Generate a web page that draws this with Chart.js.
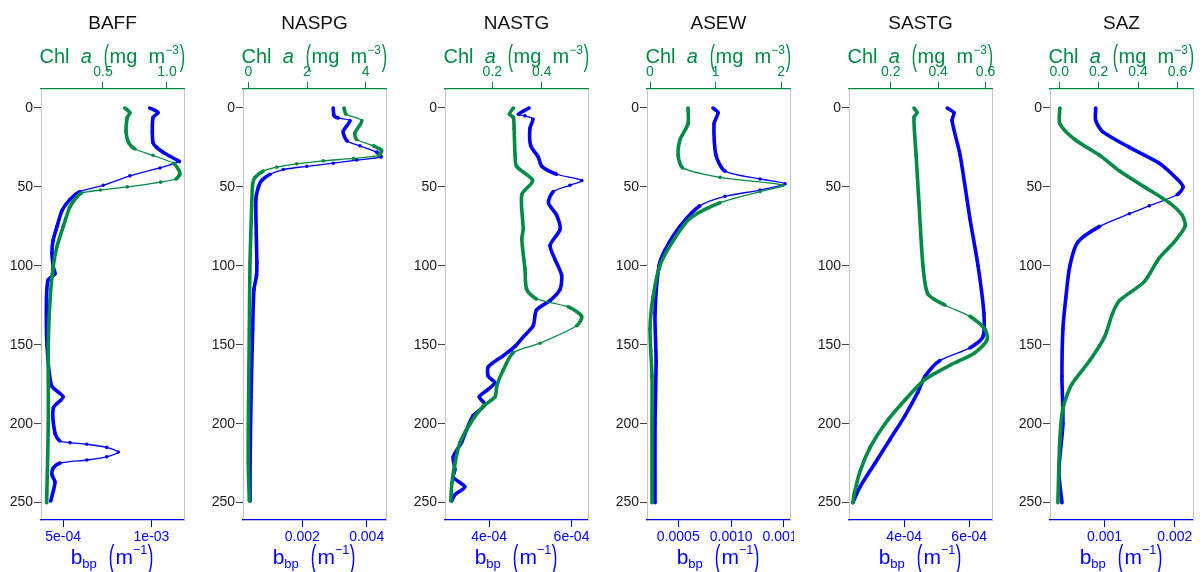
<!DOCTYPE html>
<html>
<head>
<meta charset="utf-8">
<script src="https://cdn.jsdelivr.net/npm/chart.js@4.4.1/dist/chart.umd.min.js"></script>
<style>
  html, body { margin: 0; padding: 0; background: #fff; }
  #wrap { position: relative; width: 1203px; height: 572px; overflow: hidden; font-family: "Liberation Sans", Arial, sans-serif; }
  .cv { position: absolute; top: 0; }
  .lbl { position: absolute; text-align: center; white-space: nowrap; transform: translate(-50%, -50%); line-height: 1; }
  .title { font-size: 19px; color: #111; }
  .chl { font-size: 20px; color: #008b45; }
  .bbp { font-size: 21px; color: #0000ff; }
  .par { display: inline-block; transform: scale(0.8, 1.45); position: relative; top: -0.02em; }
  sup { font-size: 0.6em; vertical-align: 0.75em; }
  sub { font-size: 0.62em; vertical-align: -0.3em; }
</style>
</head>
<body>
<div id="wrap"></div>
<script>
// ---- panel names and depth ticks ----
const panelNames = ['BAFF', 'NASPG', 'NASTG', 'ASEW', 'SASTG', 'SAZ'];
const depthTicks = [0, 50, 100, 150, 200, 250];

// ---- BAFF ----
const baffChlDepth = [0, 3, 6, 15, 22, 26, 30, 35, 39, 42, 45, 47, 50, 52, 54, 58, 63, 75, 88, 101, 122, 150, 200, 250];
const baffChl = [0.67, 0.71, 0.69, 0.68, 0.70, 0.75, 0.89, 1.05, 1.09, 1.10, 1.07, 0.95, 0.69, 0.48, 0.33, 0.28, 0.24, 0.19, 0.14, 0.11, 0.086, 0.073, 0.073, 0.06];
const baffBbpDepth = [0, 3, 6, 15, 22, 25, 28, 33, 34, 38, 43, 49, 53, 58, 65, 75, 84, 92, 101, 105, 109, 122, 150, 176, 183, 190, 206, 211, 212, 213, 215, 218, 221, 223, 225, 228, 232, 237, 249];
const baffBbp = [9.9e-4, 1.037e-3, 1.009e-3, 1.005e-3, 1.009e-3, 1.029e-3, 1.065e-3, 1.143e-3, 1.156e-3, 1.048e-3, 8.78e-4, 7.27e-4, 5.96e-4, 5.39e-4, 4.94e-4, 4.66e-4, 4.43e-4, 4.37e-4, 4.45e-4, 4.54e-4, 4.15e-4, 4.06e-4, 4.09e-4, 4.35e-4, 5.0e-4, 4.45e-4, 4.54e-4, 4.82e-4, 5.39e-4, 6.34e-4, 7.47e-4, 8.12e-4, 7.47e-4, 6.34e-4, 4.82e-4, 4.45e-4, 4.36e-4, 4.54e-4, 4.3e-4];

// ---- NASPG ----
const naspgChlDepth = [0, 4, 8, 16, 20, 24, 27, 30, 32, 33.5, 35.4, 37.5, 40, 44, 48, 62, 98, 140, 204, 225, 249];
const naspgChl = [3.26, 3.33, 3.86, 3.63, 3.69, 4.26, 4.54, 4.43, 3.58, 2.55, 1.65, 0.97, 0.51, 0.23, 0.15, 0.116, 0.058, 0.035, 0.0, 0.0, 0.035];
const naspgBbpDepth = [0, 5, 6.4, 8, 15, 21, 24, 28, 31, 33, 35, 37, 39, 42, 46, 50, 58, 98, 106, 115, 140, 183, 225, 249];
const naspgBbp = [0.00296, 0.00299, 0.00312, 0.00348, 0.00327, 0.0034, 0.00379, 0.00431, 0.00444, 0.00369, 0.00296, 0.00214, 0.00141, 0.001, 0.00074, 0.00064, 0.00056, 0.00059, 0.00058, 0.0005, 0.00046, 0.00041, 0.00038, 0.00038];

// ---- NASTG ----
const nastgChlDepth = [0, 4, 6, 13, 30, 37, 46, 55, 77, 83, 102, 115, 121, 126, 132, 138, 149, 155, 166, 176, 183, 189, 200, 212, 225, 238, 249];
const nastgChl = [0.285, 0.269, 0.285, 0.288, 0.292, 0.298, 0.363, 0.319, 0.325, 0.319, 0.332, 0.339, 0.379, 0.507, 0.561, 0.541, 0.393, 0.285, 0.244, 0.218, 0.211, 0.163, 0.11, 0.069, 0.049, 0.036, 0.032];
const nastgBbpDepth = [0, 4, 5, 7, 13, 24, 31, 37, 42, 46, 49, 53, 60, 68, 77, 87, 96, 106, 115, 122, 128, 138, 145, 151, 157, 164, 170, 174, 179, 183, 188, 195, 204, 212, 221, 229, 234, 240, 245, 249];
const nastgBbp = [4.97e-4, 4.71e-4, 4.87e-4, 5.06e-4, 4.99e-4, 5.01e-4, 5.19e-4, 5.28e-4, 5.64e-4, 6.25e-4, 5.96e-4, 5.56e-4, 5.44e-4, 5.64e-4, 5.72e-4, 5.48e-4, 5.6e-4, 5.76e-4, 5.72e-4, 5.48e-4, 5.15e-4, 5.07e-4, 4.83e-4, 4.63e-4, 4.34e-4, 3.98e-4, 3.98e-4, 4.14e-4, 3.94e-4, 3.76e-4, 3.9e-4, 3.61e-4, 3.45e-4, 3.33e-4, 3.13e-4, 3.17e-4, 3.13e-4, 3.41e-4, 3.17e-4, 3.09e-4];

// ---- ASEW ----
const asewChlDepth = [0, 10, 20, 30, 38, 44, 49, 53, 60, 70, 85, 100, 120, 140, 170, 200, 250];
const asewChl = [0.58, 0.58, 0.46, 0.43, 0.5, 1.07, 2.03, 1.68, 1.07, 0.61, 0.34, 0.15, 0.046, 0.0, 0.03, 0.03, 0.03];
const asewBbpDepth = [0, 3, 10, 30, 40, 45, 48, 52, 56, 62, 75, 90, 100, 130, 160, 200, 250];
const asewBbp = [8.28e-4, 8.76e-4, 8.38e-4, 8.57e-4, 9.42e-4, 1.273e-3, 1.51e-3, 1.273e-3, 9.42e-4, 7.05e-4, 5.16e-4, 3.74e-4, 3.18e-4, 2.8e-4, 2.9e-4, 2.8e-4, 2.8e-4];

// ---- SASTG ----
const sastgChlDepth = [0, 3, 6, 30, 60, 100, 118, 125, 132, 140, 147, 155, 163, 172, 185, 200, 215, 230, 245, 250];
const sastgChl = [0.298, 0.311, 0.298, 0.307, 0.319, 0.336, 0.357, 0.429, 0.534, 0.597, 0.606, 0.555, 0.45, 0.344, 0.26, 0.176, 0.113, 0.071, 0.045, 0.041];
const sastgBbpDepth = [0, 3, 8, 30, 70, 100, 130, 145, 152, 160, 170, 180, 195, 210, 225, 240, 250];
const sastgBbp = [5.32e-4, 5.53e-4, 5.47e-4, 5.72e-4, 6.02e-4, 6.27e-4, 6.45e-4, 6.42e-4, 6.02e-4, 5.1e-4, 4.64e-4, 4.42e-4, 4.02e-4, 3.56e-4, 3.1e-4, 2.64e-4, 2.42e-4];

// ---- SAZ ----
const sazChlDepth = [0, 10, 20, 30, 40, 50, 60, 68, 75, 85, 95, 110, 122, 130, 145, 160, 175, 190, 210, 250];
const sazChl = [0.003, 0.003, 0.079, 0.205, 0.306, 0.432, 0.558, 0.624, 0.639, 0.583, 0.508, 0.432, 0.306, 0.271, 0.23, 0.155, 0.064, 0.019, 0.003, -0.007];
const sazBbpDepth = [0, 8, 15, 25, 35, 45, 50, 55, 62, 67, 75, 85, 100, 120, 140, 170, 200, 230, 250];
const sazBbp = [8.73e-4, 8.73e-4, 9.72e-4, 1.354e-3, 1.779e-3, 2.033e-3, 2.118e-3, 2.033e-3, 1.637e-3, 1.354e-3, 9.3e-4, 6.18e-4, 5.05e-4, 4.48e-4, 4.06e-4, 3.92e-4, 4.06e-4, 3.49e-4, 3.92e-4];

// ---- axis ticks ----
const chlTicks = [[0.5, 1.0], [0, 2, 4], [0.2, 0.4], [0, 1, 2], [0.2, 0.4, 0.6], [0.0, 0.2, 0.4, 0.6]];
const chlTickLabels = [['0.5', '1.0'], ['0', '2', '4'], ['0.2', '0.4'], ['0', '1', '2'], ['0.2', '0.4', '0.6'], ['0.0', '0.2', '0.4', '0.6']];
const bbpTicks = [[5e-4, 1e-3], [0.002, 0.004], [4e-4, 6e-4], [0.0005, 0.001, 0.0015], [4e-4, 6e-4], [0.001, 0.002]];
const bbpTickLabels = [['5e-04', '1e-03'], ['0.002', '0.004'], ['4e-04', '6e-04'], ['0.0005', '0.0010', '0.0015'], ['4e-04', '6e-04'], ['0.001', '0.002']];

// axis ranges
const chlRange = [[0.016, 1.133], [-0.18, 4.69], [0.0085, 0.587], [-0.046, 2.137], [0.024, 0.627], [-0.047, 0.679]];
const bbpRange = [[3.75e-4, 1.184e-3], [0.00016, 0.0046], [2.93e-4, 6.4e-4], [0.000204, 0.001557], [2.3e-4, 6.7e-4], [0.000222, 0.00226]];
const depthRange = [-12, 261];

const GREEN = '#008b45';
const BLUE = '#0000ff';

const series = [
    [baffChlDepth, baffChl, baffBbpDepth, baffBbp],
    [naspgChlDepth, naspgChl, naspgBbpDepth, naspgBbp],
    [nastgChlDepth, nastgChl, nastgBbpDepth, nastgBbp],
    [asewChlDepth, asewChl, asewBbpDepth, asewBbp],
    [sastgChlDepth, sastgChl, sastgBbpDepth, sastgBbp],
    [sazChlDepth, sazChl, sazBbpDepth, sazBbp]
];

// layout (pixels)
const plotLefts = [41, 243, 445, 647, 849, 1050];
const plotWidth = 143;
const yAxisW = 41;
const rightPad = 4;
const topH = 89;
const bottomH = 52;

const wrap = document.getElementById('wrap');

function addLabel(html, cls, x, y) {
    const d = document.createElement('div');
    d.className = 'lbl ' + cls;
    d.style.left = x + 'px';
    d.style.top = y + 'px';
    d.innerHTML = html;
    wrap.appendChild(d);
}

// thin line where the profile changes fast, thick where samples pile up
function segWidth(ctx) {
    const dx = Math.abs(ctx.p1.x - ctx.p0.x);
    const dy = Math.abs(ctx.p1.y - ctx.p0.y);
    return dx > 2 * dy ? 1.3 : 3.6;
}

const frame = {
    id: 'frame',
    afterDraw(chart) {
        const a = chart.chartArea;
        const c = chart.ctx;
        c.save();
        c.strokeStyle = '#c4c4c4';
        c.lineWidth = 1;
        c.beginPath();
        c.moveTo(Math.round(a.right) + 0.5, a.top);
        c.lineTo(Math.round(a.right) + 0.5, a.bottom);
        c.stroke();
        c.restore();
    }
};

function fixTicks(values) {
    return function (scale) {
        scale.ticks = values.map(v => ({ value: v }));
    };
}

panelNames.forEach((name, i) => {
    const left = plotLefts[i] - yAxisW;
    const w = yAxisW + plotWidth + rightPad;
    const canvas = document.createElement('canvas');
    canvas.className = 'cv';
    canvas.width = w;
    canvas.height = 572;
    canvas.style.left = left + 'px';
    canvas.style.width = w + 'px';
    canvas.style.height = '572px';
    wrap.appendChild(canvas);

    const [cd, cv, bd, bv] = series[i];
    const tickFont = { family: '"Liberation Sans", Arial, sans-serif', size: 14 };
    const line = (color) => ({
        showLine: true,
        borderColor: color,
        backgroundColor: color,
        pointRadius: 1.8,
        pointBorderWidth: 0,
        borderWidth: 3.6,
        tension: 0.25,
        segment: { borderWidth: segWidth }
    });

    new Chart(canvas.getContext('2d'), {
        type: 'scatter',
        data: {
            datasets: [Object.assign({
                label: 'Chl a',
                data: cd.map((d, k) => ({ x: cv[k], y: d })),
                xAxisID: 'xc',
                yAxisID: 'y'
            }, line(GREEN)), Object.assign({
                label: 'bbp',
                data: bd.map((d, k) => ({ x: bv[k], y: d })),
                xAxisID: 'xb',
                yAxisID: 'y'
            }, line(BLUE))]
        },
        options: {
            responsive: false,
            animation: false,
            devicePixelRatio: 1,
            layout: { padding: { left: 0, right: rightPad, top: 0, bottom: 0 } },
            plugins: { legend: { display: false }, tooltip: { enabled: false } },
            scales: {
                y: {
                    type: 'linear',
                    position: 'left',
                    reverse: true,
                    min: depthRange[0],
                    max: depthRange[1],
                    afterBuildTicks: fixTicks(depthTicks),
                    afterFit(s) { s.width = yAxisW; s.paddingTop = 0; s.paddingBottom = 0; },
                    border: { display: true, color: '#c4c4c4', width: 1 },
                    grid: { drawOnChartArea: false, drawTicks: true, tickLength: 7, color: '#444' },
                    ticks: { color: '#1a1a1a', font: tickFont, padding: 1, autoSkip: false }
                },
                xc: {
                    type: 'linear',
                    position: 'top',
                    min: chlRange[i][0],
                    max: chlRange[i][1],
                    afterBuildTicks: fixTicks(chlTicks[i]),
                    afterFit(s) { s.height = topH; s.paddingLeft = 0; s.paddingRight = 0; },
                    border: { display: true, color: GREEN, width: 1.2 },
                    grid: { drawOnChartArea: false, drawTicks: true, tickLength: 7, color: GREEN },
                    ticks: {
                        color: GREEN, font: tickFont, padding: 1, autoSkip: false, maxRotation: 0,
                        callback: (v, k) => chlTickLabels[i][k]
                    }
                },
                xb: {
                    type: 'linear',
                    position: 'bottom',
                    min: bbpRange[i][0],
                    max: bbpRange[i][1],
                    afterBuildTicks: fixTicks(bbpTicks[i]),
                    afterFit(s) { s.height = bottomH; s.paddingLeft = 0; s.paddingRight = 0; },
                    border: { display: true, color: BLUE, width: 1.2 },
                    grid: { drawOnChartArea: false, drawTicks: true, tickLength: 7, color: BLUE },
                    ticks: {
                        color: BLUE, font: tickFont, padding: 2, autoSkip: false, maxRotation: 0,
                        callback: (v, k) => bbpTickLabels[i][k]
                    }
                }
            }
        },
        plugins: [frame]
    });

    const cx = plotLefts[i] + plotWidth / 2;
    addLabel(name, 'title', cx, 22);
    addLabel('Chl&nbsp; <i>a</i>&nbsp; <span class="par">(</span>mg&nbsp; m<sup>\u22123</sup><span class="par">)</span>', 'chl', cx, 55);
    addLabel('b<sub>bp</sub>&nbsp; <span class="par">(</span>m<sup>\u22121</sup><span class="par">)</span>', 'bbp', cx, 557);
});
</script>
</body>
</html>
